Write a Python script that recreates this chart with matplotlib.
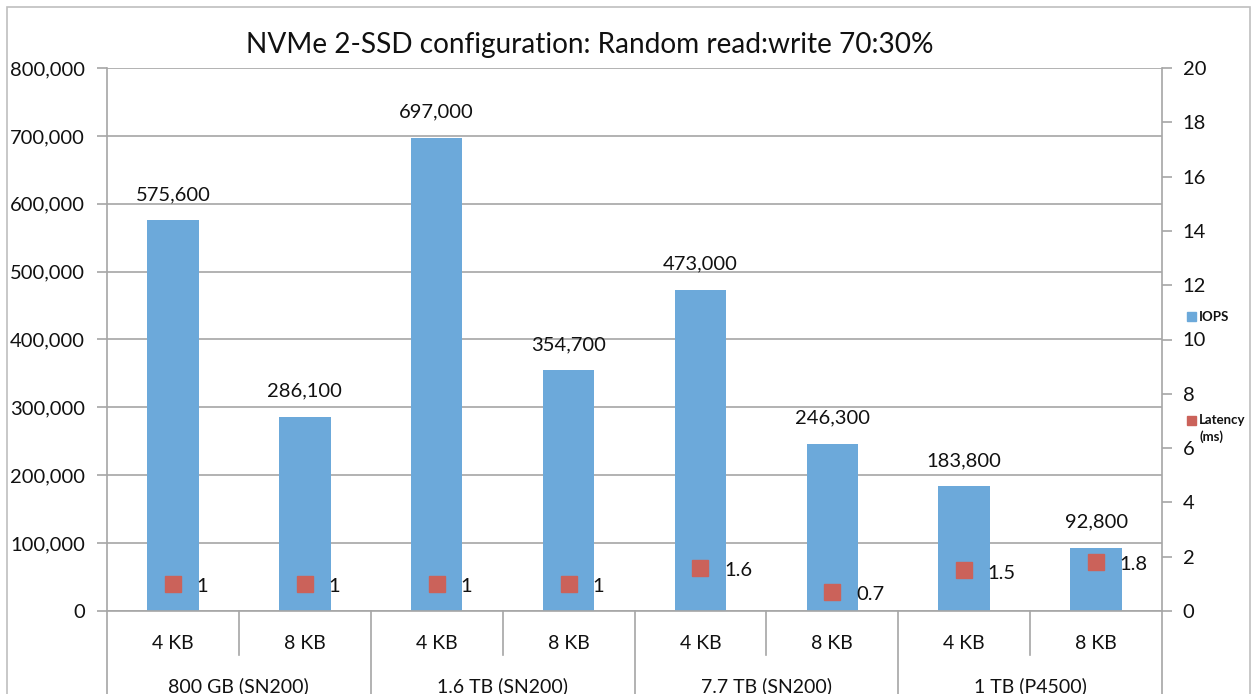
import matplotlib
matplotlib.use("Agg")
import matplotlib.pyplot as plt
from matplotlib.patches import Rectangle
from matplotlib.lines import Line2D
import matplotlib.transforms as mtransforms

plt.rcParams['font.family'] = ['Lato', 'DejaVu Sans']

title = "NVMe 2-SSD configuration: Random read:write 70:30%"
block_sizes = ["4 KB", "8 KB", "4 KB", "8 KB", "4 KB", "8 KB", "4 KB", "8 KB"]
groups = ["800 GB (SN200)", "1.6 TB (SN200)", "7.7 TB (SN200)", "1 TB (P4500)"]
iops = [575600, 286100, 697000, 354700, 473000, 246300, 183800, 92800]
latency = [1, 1, 1, 1, 1.6, 0.7, 1.5, 1.8]
latency_labels = ["1", "1", "1", "1", "1.6", "0.7", "1.5", "1.8"]
iops_ticks = [0, 100000, 200000, 300000, 400000, 500000, 600000, 700000, 800000]
lat_ticks = [0, 2, 4, 6, 8, 10, 12, 14, 16, 18, 20]

BAR = '#6CA9DA'
MARK = '#CB625A'
GRID = '#A6A6A6'
TXT = '#111111'

W, H = 1253, 694
fig = plt.figure(figsize=(W / 100, H / 100), dpi=100)
fig.patch.set_facecolor('white')
# outer frame
fig.add_artist(Rectangle((7 / W, -0.01), (1250 - 7) / W, 1 - 7 / H + 0.01,
                         transform=fig.transFigure, fill=False,
                         edgecolor='#BFBFBF', linewidth=1.2))

L, R, T, B = 107, 1162, 68, 611
ax = fig.add_axes([L / W, 1 - B / H, (R - L) / W, (B - T) / H])
ax2 = ax.twinx()

x = list(range(len(iops)))
ax.set_axisbelow(True)
ax.bar(x, iops, width=0.39, color=BAR, zorder=2, label='IOPS')
ax.set_xlim(-0.5, len(iops) - 0.5)
ax.set_ylim(0, 800000)
ax.set_yticks(iops_ticks)
ax.set_yticklabels([f"{v:,}" for v in iops_ticks], fontsize=14.5, color=TXT)
ax.yaxis.grid(True, color=GRID, linewidth=1.2)
ax.tick_params(axis='y', length=7, color=GRID, width=1.2, pad=9)
ax.set_xticks(x)
ax.set_xticklabels(block_sizes, fontsize=14, color=TXT)
ax.tick_params(axis='x', length=0, pad=17)
for s in ['top', 'right', 'bottom']:
    ax.spines[s].set_visible(False)
ax.spines['left'].set_color(GRID)
ax.spines['left'].set_linewidth(1.2)

for xi, v in zip(x, iops):
    ax.annotate(f"{v:,}", (xi, v), xytext=(0, 18.5), textcoords='offset points',
                ha='center', va='center', fontsize=14.5, color=TXT, zorder=5)

ax2.set_ylim(0, 20)
ax2.set_yticks(lat_ticks)
ax2.set_yticklabels([str(t) for t in lat_ticks], fontsize=14.5, color=TXT)
ax2.tick_params(axis='y', length=7, color=GRID, width=1.2, pad=8)
for s in ['top', 'left', 'bottom']:
    ax2.spines[s].set_visible(False)
ax2.spines['right'].set_color(GRID)
ax2.spines['right'].set_linewidth(1.2)
ax2.plot(x, latency, linestyle='none', marker='s', markersize=11.5,
         color=MARK, zorder=4, label='Latency (ms)')
for xi, v, lab in zip(x, latency, latency_labels):
    ax2.annotate(lab, (xi, v), xytext=(17, -2), textcoords='offset points',
                 ha='left', va='center', fontsize=14.5, color=TXT)

# multi-level category axis
trans = mtransforms.blended_transform_factory(ax.transData, ax.transAxes)
ph = B - T
ax.add_line(Line2D([-0.5, len(iops) - 0.5], [0, 0], transform=trans,
                   color=GRID, linewidth=1.2, clip_on=False, zorder=3))
inner_bot = -44 / ph
outer_bot = -(H - B + 5) / ph
n_per = len(block_sizes) // len(groups)
for gi, g in enumerate(groups):
    start = gi * n_per - 0.5
    ax.add_line(Line2D([start, start], [0, outer_bot], transform=trans,
                       color=GRID, linewidth=1.2, clip_on=False))
    for k in range(1, n_per):
        xs = start + k
        ax.add_line(Line2D([xs, xs], [0, inner_bot], transform=trans,
                           color=GRID, linewidth=1.2, clip_on=False))
    ax.text(start + n_per / 2, -(686 - B) / ph, g, transform=trans,
            ha='center', va='center', fontsize=14, color=TXT)
end = len(iops) - 0.5
ax.add_line(Line2D([end, end], [0, outer_bot], transform=trans,
                   color=GRID, linewidth=1.2, clip_on=False))

fig.text(590 / W, 1 - 45 / H, title, ha='center', va='center',
         fontsize=20.2, color=TXT)

# legend on right
fig.add_artist(Rectangle((1187 / W, 1 - 321 / H), 9 / W, 9 / H,
                         transform=fig.transFigure, color=BAR))
fig.text(1199 / W, 1 - 317 / H, "IOPS", fontsize=9.5, fontweight='bold',
         va='center', ha='left', color=TXT)
fig.add_artist(Rectangle((1187 / W, 1 - 425 / H), 9 / W, 9 / H,
                         transform=fig.transFigure, color=MARK))
fig.text(1199 / W, 1 - 420 / H, "Latency", fontsize=9.5, fontweight='bold',
         va='center', ha='left', color=TXT)
fig.text(1200 / W, 1 - 437 / H, "(ms)", fontsize=9.5, fontweight='bold',
         va='center', ha='left', color=TXT)

fig.savefig('out.png', dpi=100, facecolor='white')
